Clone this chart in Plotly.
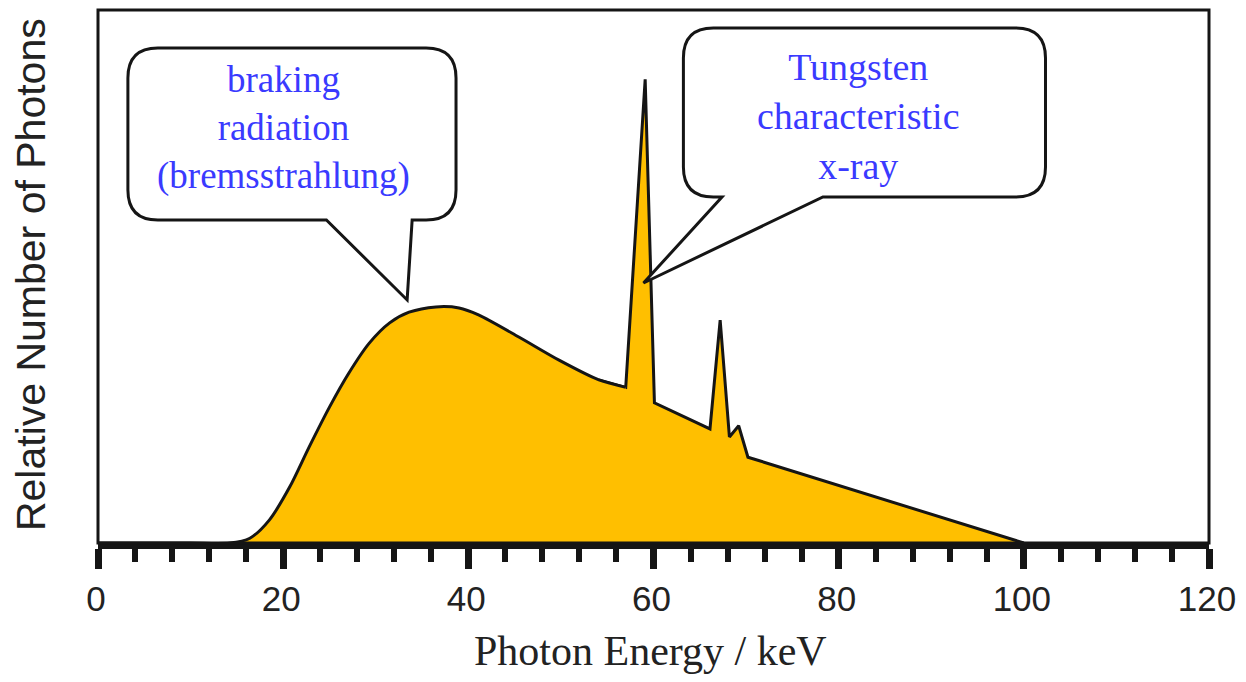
import plotly.graph_objects as go

# ---- data ----
hump_kev = [0, 10, 14.2, 16.4, 18.5, 20.7, 22.8, 25.0, 27.1, 29.3, 31.5, 33.6,
            36.5, 39.0, 41.1, 45.5, 49.8, 54.1, 57.0]
hump_counts = [0, 0, 0, 0.9, 4.3, 10.5, 18.0, 25.5, 31.9, 37.5, 41.3, 43.3,
               44.3, 44.1, 42.8, 38.6, 34.3, 30.6, 29.2]
line_kev = [54.1, 57.0, 59.1, 60.1, 66.1, 67.2, 68.2, 69.2, 70.2, 100]
line_counts = [30.6, 29.2, 87.0, 26.3, 21.4, 41.8, 19.9, 22.0, 16.1, 0]

tick_vals = [0, 20, 40, 60, 80, 100, 120]
tick_text = ["0", "20", "40", "60", "80", "100", "120"]

x_title = "Photon Energy / keV"
y_title = "Relative Number of Photons"
callout1_lines = ["braking", "radiation", "(bremsstrahlung)"]
callout2_lines = ["Tungsten", "characteristic", "x-ray"]

FILL = "#FFBF00"
INK = "#151515"
BLUE = "#3a3aff"

fig = go.Figure()
fig.add_trace(go.Scatter(x=line_kev, y=line_counts, mode="lines",
                         line=dict(color=INK, width=3, shape="linear"),
                         fill="tozeroy", fillcolor=FILL, hoverinfo="skip"))
fig.add_trace(go.Scatter(x=hump_kev, y=hump_counts, mode="lines",
                         line=dict(color=INK, width=3, shape="spline", smoothing=0.8),
                         fill="tozeroy", fillcolor=FILL, hoverinfo="skip"))


def bubble(L, R, T, B, tailL, tailR, tip, rx=3.23, ry=5.63):
    tx, ty = tip
    p = (f"M {L+rx},{T} L {R-rx},{T} Q {R},{T} {R},{T-ry} "
         f"L {R},{B+ry} Q {R},{B} {R-rx},{B} "
         f"L {tailR},{B} L {tx},{ty} L {tailL},{B} "
         f"L {L+rx},{B} Q {L},{B} {L},{B+ry} "
         f"L {L},{T-ry} Q {L},{T} {L+rx},{T} Z")
    return dict(type="path", path=p, xref="x", yref="y",
                line=dict(color=INK, width=3), fillcolor="white", layer="above")


shapes = [
    bubble(3.23, 38.67, 92.87, 60.6, 24.67, 33.93, (33.39, 45.6)),
    bubble(63.23, 102.34, 96.62, 64.92, 67.4, 78.3, (58.92, 48.78)),
    dict(type="rect", xref="paper", yref="paper", x0=0, x1=1, y0=0, y1=1,
         line=dict(color=INK, width=3), layer="above"),
]

annotations = [
    dict(x=20.04, y=77.9, xref="x", yref="y", text="<br>".join(callout1_lines),
         showarrow=False, align="center",
         font=dict(family="Liberation Serif", size=37, color=BLUE)),
    dict(x=82.1, y=80.1, xref="x", yref="y", text="<br>".join(callout2_lines),
         showarrow=False, align="center",
         font=dict(family="Liberation Serif", size=38, color=BLUE)),
    dict(x=(31 - 98) / 1114, y=0.503, xref="paper", yref="paper", text=y_title,
         textangle=-90, showarrow=False, xanchor="center", yanchor="middle",
         font=dict(family="Liberation Sans", size=41, color="#222222")),
    dict(x=(652 - 98) / 1114, y=(543 - 651) / 533, xref="paper", yref="paper",
         text=x_title, showarrow=False, xanchor="center", yanchor="middle",
         font=dict(family="Liberation Serif", size=42, color="#222222")),
]

# page body has an 8px margin; figure is sized to fit the 1246x682 window
fig.update_layout(
    width=1230, height=666,
    margin=dict(l=90, r=26, t=2, b=131),
    paper_bgcolor="white", plot_bgcolor="white",
    showlegend=False,
    shapes=shapes, annotations=annotations,
    xaxis=dict(range=[0, 120], tickvals=tick_vals, ticktext=tick_text,
               showgrid=False, zeroline=False, showline=True,
               linecolor=INK, linewidth=6,
               ticks="outside", ticklen=20, tickwidth=7, tickcolor=INK,
               ticklabeloverflow="allow", ticklabelshift=-2,
               tickfont=dict(family="Liberation Sans", size=35, color="#222222"),
               minor=dict(dtick=4, ticks="outside", ticklen=13, tickwidth=6,
                          tickcolor=INK, showgrid=False)),
    yaxis=dict(range=[0, 100], showticklabels=False, ticks="", showgrid=False,
               zeroline=False, showline=False),
)

fig.write_html("out.html")
